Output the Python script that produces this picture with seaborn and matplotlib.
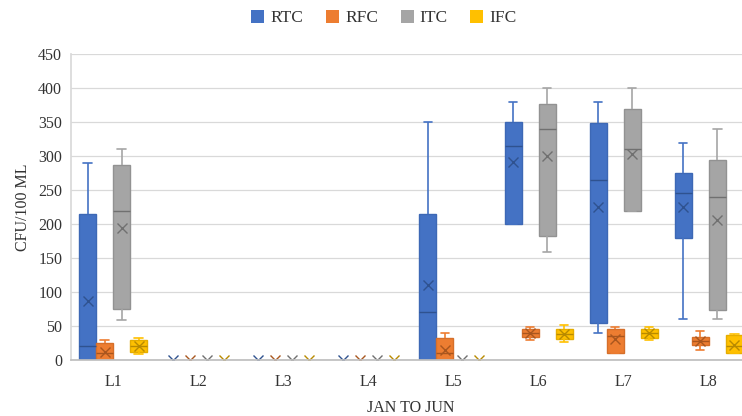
import numpy as np
import pandas as pd
import matplotlib
matplotlib.use("Agg")
import matplotlib.pyplot as plt
import matplotlib.cbook as cbook
from matplotlib.patches import Patch
import seaborn as sns

# ---------------- data (monthly values JAN..JUN per location) ----------------
categories = ["L1", "L2", "L3", "L4", "L5", "L6", "L7", "L8"]
months = ["JAN", "FEB", "MAR", "APR", "MAY", "JUN"]
series = ["RTC", "RFC", "ITC", "IFC"]

RTC = [
    [0, 0, 10, 30, 190, 290],
    [0, 0, 0, 0, 0, 0],
    [0, 0, 0, 0, 0, 0],
    [0, 0, 0, 0, 0, 0],
    [0, 0, 60, 80, 169, 350],
    [200, 200, 300, 328, 340, 380],
    [39, 60, 250, 280, 339, 380],
    [60, 220, 240, 250, 260, 319],
]
RFC = [
    [0, 0, 0, 20, 24, 29],
    [0, 0, 0, 0, 0, 0],
    [0, 0, 0, 0, 0, 0],
    [0, 0, 0, 0, 0, 0],
    [0, 0, 8, 13, 30, 39],
    [30, 35, 38, 42, 44, 48],
    [10, 10, 33, 37, 45, 48],
    [14, 25, 27, 30, 32, 42],
]
ITC = [
    [59, 80, 200, 238, 279, 310],
    [0, 0, 0, 0, 0, 0],
    [0, 0, 0, 0, 0, 0],
    [0, 0, 0, 0, 0, 0],
    [0, 0, 0, 0, 0, 0],
    [159, 190, 330, 348, 369, 400],
    [219, 219, 300, 320, 359, 400],
    [60, 79, 230, 248, 279, 339],
]
IFC = [
    [9, 12, 18, 23, 28, 33],
    [0, 0, 0, 0, 0, 0],
    [0, 0, 0, 0, 0, 0],
    [0, 0, 0, 0, 0, 0],
    [0, 0, 0, 0, 0, 0],
    [27, 32, 36, 40, 43, 51],
    [30, 33, 38, 42, 45, 48],
    [10, 10, 18, 22, 36, 38],
]
y_ticks = [0, 50, 100, 150, 200, 250, 300, 350, 400, 450]

fill_colors = {"RTC": "#4472C4", "RFC": "#ED7D31", "ITC": "#A5A5A5", "IFC": "#FFC000"}
edge_colors = {"RTC": "#3D68B5", "RFC": "#D66F2A", "ITC": "#929292", "IFC": "#E5AD00"}
dark_colors = {"RTC": "#2F528F", "RFC": "#A9561E", "ITC": "#707070", "IFC": "#B88A00"}

# Excel box & whisker charts use exclusive quartiles; make the stats match.
_orig_stats = cbook.boxplot_stats


def _excel_stats(X, *args, **kwargs):
    stats = _orig_stats(X, *args, **kwargs)
    for st, x in zip(stats, X):
        q1, q3 = np.percentile(np.asarray(x, float), [25, 75], method="weibull")
        st["q1"], st["q3"], st["iqr"] = q1, q3, q3 - q1
    return stats


cbook.boxplot_stats = _excel_stats

rows = []
for s, arr in zip(series, [RTC, RFC, ITC, IFC]):
    for cat, vals in zip(categories, arr):
        for m, v in zip(months, vals):
            rows.append({"Location": cat, "Series": s, "Month": m, "CFU": v})
df = pd.DataFrame(rows)

# ---------------- plotting ----------------
sns.set_theme(style="white")
plt.rcParams["font.family"] = ["Liberation Serif", "DejaVu Serif"]

W, H = 742, 416
fig = plt.figure(figsize=(W / 100, H / 100), dpi=100)
ax = fig.add_axes([70.5 / W, 1 - 360 / H, 680.8 / W, 306 / H])

sns.boxplot(
    data=df, x="Location", y="CFU", hue="Series",
    order=categories, hue_order=series, palette=fill_colors,
    saturation=1, width=0.8, gap=0, whis=(0, 100),
    showmeans=True,
    meanprops=dict(marker="x", markersize=6.5, markeredgewidth=1.0),
    linewidth=1.0, legend=False, ax=ax,
)

for cont, s in zip(ax.containers, series):
    for i, b in enumerate(cont.boxes):
        b.set_edgecolor(edge_colors[s])
        b.set_linewidth(1.0)
        ext = b.get_path().get_extents()
        if ext.height < 1e-9:
            b.set_visible(False)
            cont.medians[i].set_visible(False)
            for k in (2 * i, 2 * i + 1):
                cont.whiskers[k].set_visible(False)
                cont.caps[k].set_visible(False)
    for l in cont.medians:
        l.set_color(dark_colors[s])
        l.set_linewidth(1.0)
    for l in cont.whiskers:
        l.set_color(fill_colors[s])
        l.set_linewidth(1.2)
    for l in cont.caps:
        l.set_color(fill_colors[s])
        l.set_linewidth(1.2)
    for l in cont.means:
        l.set_markeredgecolor(dark_colors[s])
        l.set_markerfacecolor(dark_colors[s])

ax.set_xlim(-0.5, 7.5)
ax.set_ylim(0, 450)
ax.set_yticks(y_ticks)
ax.yaxis.grid(True, color="#D9D9D9", linewidth=0.9)
ax.xaxis.grid(False)
ax.set_axisbelow(True)
for sp in ["top", "right"]:
    ax.spines[sp].set_visible(False)
ax.spines["left"].set_color("#D9D9D9")
ax.spines["bottom"].set_color("#BFBFBF")
ax.tick_params(axis="both", length=0, labelsize=11.5, colors="#333333")
ax.tick_params(axis="y", pad=6)
ax.tick_params(axis="x", pad=10)

ax.set_xlabel("JAN TO JUN", fontsize=11.5, color="#333333", labelpad=7.5)
ax.set_ylabel("CFU/100 ML", fontsize=11.5, color="#333333", labelpad=5)

handles = [Patch(facecolor=fill_colors[s], edgecolor="none", label=s) for s in series]
fig.legend(handles=handles, loc="center", bbox_to_anchor=(384 / W, 1 - 18 / H),
           ncol=4, frameon=False, fontsize=12.5, handlelength=0.75, handleheight=0.75,
           handletextpad=0.35, columnspacing=1.3, labelcolor="#333333")

fig.savefig("out.png", dpi=100)
